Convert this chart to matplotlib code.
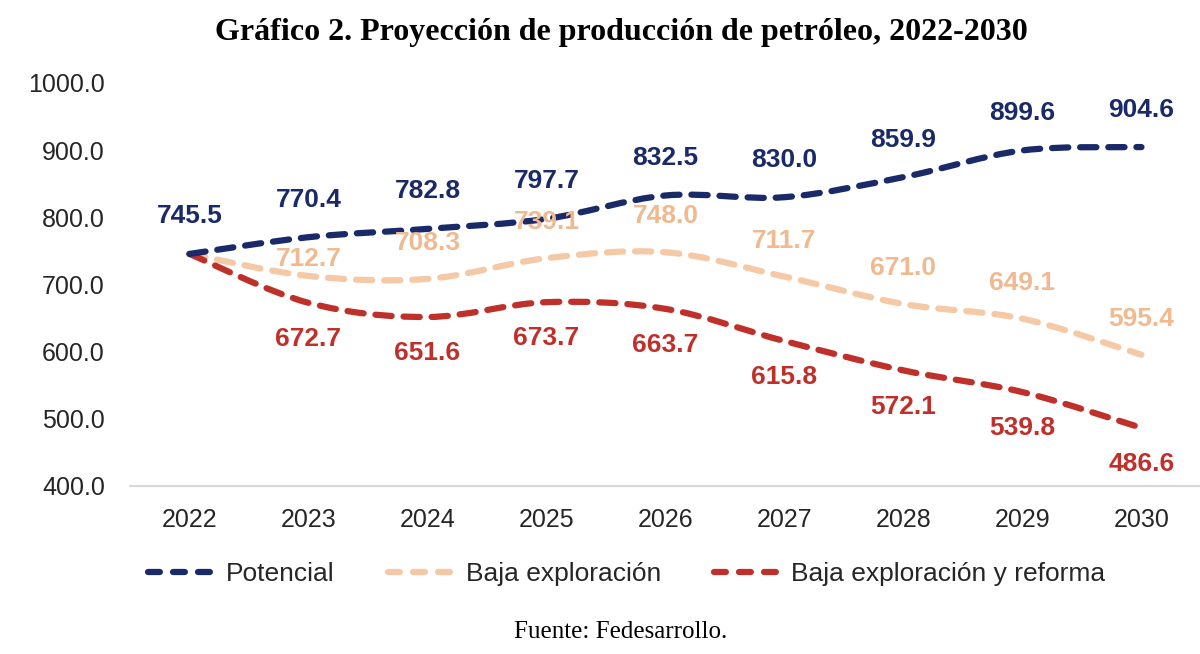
import matplotlib
matplotlib.use("Agg")
import matplotlib.pyplot as plt
from matplotlib.path import Path
from matplotlib.patches import PathPatch
from matplotlib.lines import Line2D

years = ['2022', '2023', '2024', '2025', '2026', '2027', '2028', '2029', '2030']
potencial = [745.5, 770.4, 782.8, 797.7, 832.5, 830.0, 859.9, 899.6, 904.6]
baja = [745.5, 712.7, 708.3, 739.1, 748.0, 711.7, 671.0, 649.1, 595.4]
reforma = [745.5, 672.7, 651.6, 673.7, 663.7, 615.8, 572.1, 539.8, 486.6]
series_names = ['Potencial', 'Baja exploración', 'Baja exploración y reforma']

c_pot = '#1a2a68'
c_baja = '#f6c9a6'
c_baja_txt = '#f0b98f'
c_ref = '#c0302b'

plt.rcParams['font.family'] = ['Liberation Sans', 'DejaVu Sans']

fig = plt.figure(figsize=(12, 6.54), dpi=100)
ax = fig.add_axes([0.1083, 0.2569, 0.8925, 0.6162])


def smooth_path(ys):
    # excel-like smoothed line: bezier segments through every point
    xs = list(range(len(ys)))
    n = len(ys)
    verts = [(xs[0], ys[0])]
    codes = [Path.MOVETO]
    for i in range(n - 1):
        x0, y0 = xs[max(i - 1, 0)], ys[max(i - 1, 0)]
        x1, y1 = xs[i], ys[i]
        x2, y2 = xs[i + 1], ys[i + 1]
        x3, y3 = xs[min(i + 2, n - 1)], ys[min(i + 2, n - 1)]
        verts += [(x1 + (x2 - x0) / 6, y1 + (y2 - y0) / 6),
                  (x2 - (x3 - x1) / 6, y2 - (y3 - y1) / 6),
                  (x2, y2)]
        codes += [Path.CURVE4] * 3
    return Path(verts, codes)


dash = (0, (2.6, 1.9))
for vals, col in [(baja, c_baja), (reforma, c_ref), (potencial, c_pot)]:
    ax.add_patch(PathPatch(smooth_path(vals), fill=False, edgecolor=col, lw=4.5,
                           linestyle=dash, capstyle='round', joinstyle='round'))

# data labels
lab_fs = 19
for i, v in enumerate(potencial):
    ax.annotate(f'{v:.1f}', (i, v), xytext=(0, 27), textcoords='offset points',
                ha='center', va='center', fontsize=lab_fs, fontweight='bold', color=c_pot)
for i, v in enumerate(baja):
    if i == 0:
        continue
    dy = 12 if i == 1 else 26
    ax.annotate(f'{v:.1f}', (i, v), xytext=(0, dy), textcoords='offset points',
                ha='center', va='center', fontsize=lab_fs, fontweight='bold', color=c_baja_txt)
for i, v in enumerate(reforma):
    if i == 0:
        continue
    ax.annotate(f'{v:.1f}', (i, v), xytext=(0, -26), textcoords='offset points',
                ha='center', va='center', fontsize=lab_fs, fontweight='bold', color=c_ref)

ax.set_xlim(-0.5, len(years) - 0.5)
ax.set_ylim(400, 1000)
ax.set_xticks(range(len(years)))
ax.set_xticklabels(years)
ax.set_yticks([400, 500, 600, 700, 800, 900, 1000])
ax.set_yticklabels([f'{t:.1f}' for t in ax.get_yticks()])
ax.tick_params(axis='both', length=0, labelsize=18, labelcolor='#262626')
ax.tick_params(axis='x', pad=16)
ax.tick_params(axis='y', pad=18)
for s in ['left', 'right', 'top']:
    ax.spines[s].set_visible(False)
ax.spines['bottom'].set_color('#d9d9d9')
ax.spines['bottom'].set_linewidth(1.5)

handles = [Line2D([], [], color=c, lw=4.5, linestyle=(0, (1.9, 2.1)),
                  dash_capstyle='round') for c in [c_pot, c_baja, c_ref]]
fig.legend(handles, series_names, loc='center', bbox_to_anchor=(0.5225, 0.122), ncol=3,
           frameon=False, fontsize=19, handlelength=2.5, handletextpad=0.45,
           columnspacing=2.0, labelcolor='#262626')

fig.text(0.518, 0.95, 'Gráfico 2. Proyección de producción de petróleo, 2022-2030',
         ha='center', va='center', fontsize=23, fontweight='bold',
         family='Liberation Serif')
fig.text(0.517, 0.034, 'Fuente: Fedesarrollo.', ha='center', va='center',
         fontsize=18, family='Liberation Serif')

fig.savefig('out.png', dpi=100)
